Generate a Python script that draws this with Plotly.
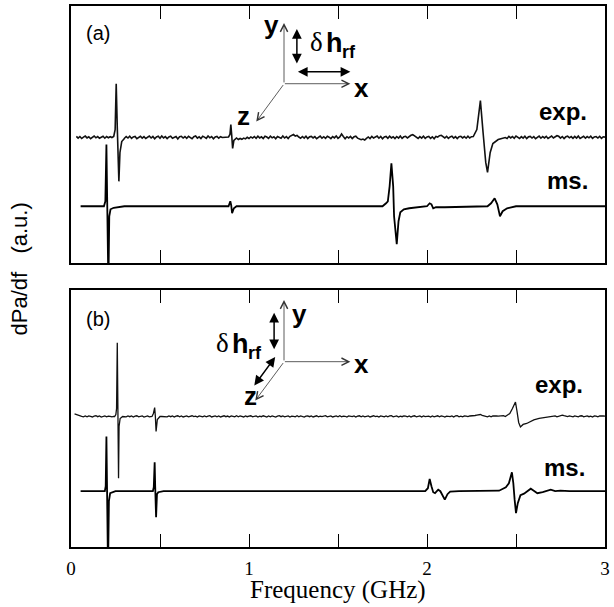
import numpy as np
import plotly.graph_objects as go

# ---------------- data (frequency in GHz, signal in a.u.) ----------------
# panel (a): exp. resonance features
exp_a_f = [0.24, 0.248, 0.254, 0.260, 0.264, 0.269, 0.275, 0.285, 0.30,
           0.885, 0.893, 0.898, 0.903, 0.908, 0.915, 0.925,
           2.26, 2.28, 2.30, 2.315, 2.33, 2.34, 2.355, 2.37, 2.40, 2.44]
exp_a_v = [0.1, 0.8, 5.4, 1.0, -1.5, -4.4, -1.5, -0.4, -0.1,
           0.05, 0.3, 1.3, 0.2, -1.1, -0.3, -0.1,
           0.1, 0.8, 3.7, 0.5, -2.5, -3.5, -1.5, -0.6, -0.2, 0.0]
# panel (a): exp. baseline noise, read every 0.01 GHz from 0.03 GHz
exp_a_noise = [
    0.12, -0.06, 0.10, -0.10, 0.04, 0.14, -0.04, 0.08, -0.12, 0.06, 0.15, -0.03, 0.09, -0.08, 0.05, 0.12, -0.07, 0.10, -0.02, 0.08,
    0.00, 0.00, 0.00, 0.00, 0.00, 0.00, 0.00, -0.08, 0.10, -0.05, 0.14, -0.09, 0.06, 0.11, -0.12, 0.04, 0.13, -0.06, 0.09, -0.10,
    0.07, 0.15, -0.05, 0.10, -0.13, 0.05, 0.12, -0.08, 0.16, -0.04, 0.09, -0.11, 0.06, 0.14, -0.07, 0.03, 0.11, -0.14, 0.08, 0.12,
    -0.05, 0.10, -0.09, 0.13, 0.02, -0.12, 0.09, 0.15, -0.06, 0.07, -0.10, 0.12, 0.04, -0.08, 0.16, -0.03, 0.09, -0.13, 0.06, 0.11,
    -0.07, 0.08, 0.00, 0.00, 0.00, 0.00, 0.00, 0.00, 0.00, -0.15, -0.05, -0.20, -0.10, -0.18, -0.06, -0.14, 0.02, -0.10, 0.06, -0.05,
    0.10, -0.08, 0.13, -0.04, 0.07, -0.11, 0.12, 0.05, -0.09, 0.14, -0.03, 0.08, -0.12, 0.10, 0.03, -0.07, 0.15, -0.05, 0.09, -0.10,
    0.12, 0.20, 0.30, 0.15, 0.22, 0.05, -0.08, 0.10, -0.06, 0.13, -0.10, 0.07, 0.11, -0.04, 0.09, -0.12, 0.06, 0.14, -0.07, 0.08,
    -0.09, 0.12, 0.03, -0.11, 0.10, -0.04, 0.15, -0.08, 0.06, 0.35, 0.10, -0.12, 0.08, -0.05, 0.11, -0.10, 0.07, 0.13, -0.06, -0.12,
    -0.22, -0.15, -0.25, -0.08, 0.06, -0.10, 0.12, -0.05, 0.09, 0.14, -0.07, 0.10, -0.12, 0.05, 0.11, -0.08, 0.13, -0.04, 0.08, -0.11,
    0.10, -0.06, 0.14, -0.09, 0.07, 0.12, -0.05, 0.10, 0.22, 0.28, 0.15, 0.05, -0.10, 0.09, -0.06, 0.13, -0.08, 0.06, 0.11, -0.09,
    0.07, -0.12, 0.10, 0.04, 0.18, 0.22, 0.10, -0.05, 0.12, -0.08, 0.06, 0.14, -0.06, 0.09, -0.11, 0.08, 0.12, -0.04, 0.10, -0.07,
    0.13, -0.05, 0.08, 0.00, 0.00, 0.00, 0.00, 0.00, 0.00, 0.00, 0.00, 0.00, 0.00, 0.00, 0.00, 0.00, 0.00, 0.00, 0.00, 0.00,
    0.00, 0.06, -0.09, 0.12, -0.04, 0.10, -0.08, 0.14, 0.03, -0.10, 0.09, -0.06, 0.13, -0.11, 0.07, 0.11, -0.05, 0.09, -0.12, 0.06,
    0.14, -0.07, 0.10, -0.04, 0.12, -0.09, 0.06, 0.15, -0.05, 0.08, 0.18, 0.12, -0.06, 0.10, -0.11, 0.07, 0.13, -0.03, 0.09, -0.08,
    0.11, -0.06, 0.14, -0.10, 0.05, 0.12, -0.07, 0.09, -0.03, 0.13, -0.09, 0.06, 0.10, -0.05, 0.12, -0.08, 0.07, 0.04]

# panel (a): ms. (micromagnetic simulation)
ms_a_f = [0.054, 0.15, 0.185, 0.193, 0.199, 0.203, 0.206, 0.210, 0.215, 0.222, 0.24, 0.30,
          0.87, 0.885, 0.895, 0.90, 0.905, 0.915, 0.93,
          1.70, 1.75, 1.77, 1.78, 1.79, 1.80, 1.81, 1.815, 1.83, 1.84, 1.85, 1.87, 1.90, 1.95,
          2.00, 2.015, 2.025, 2.035, 2.05, 2.10,
          2.30, 2.34, 2.36, 2.38, 2.395, 2.41, 2.425, 2.45, 2.50, 3.0]
ms_a_v = [0, 0, 0, 0.5, 6.2, 1.0, -3.0, -8.0, -1.0, -0.3, -0.15, 0,
          0, 0, 0.5, 0.1, -0.7, -0.2, 0,
          0, 0, 0.3, 0.5, 2.0, 4.3, 2.0, -1.0, -3.8, -1.5, -0.6, -0.3, -0.2, -0.1,
          0, 0.3, 0.2, -0.2, -0.1, -0.1,
          0, 0, 0.3, 0.8, 0.2, -1.0, -0.5, -0.2, 0, 0]

# panel (b): exp. resonance features
exp_b_f = [0.245, 0.252, 0.256, 0.260, 0.263, 0.265, 0.267, 0.270, 0.276, 0.29,
           0.455, 0.463, 0.470, 0.474, 0.478, 0.485, 0.50,
           2.44, 2.465, 2.48, 2.497, 2.505, 2.515, 2.525, 2.54, 2.56, 2.58, 2.60, 2.63, 2.66, 2.70]
exp_b_v = [0.0, 0.2, 0.8, 7.4, 1.0, -3.0, -6.2, -1.0, -0.2, 0.0,
           0.0, 0.3, 0.9, 0.0, -1.5, -0.3, 0.0,
           0.0, 0.3, 0.8, 1.45, 0.6, -0.6, -1.05, -0.8, -0.7, -0.5, -0.35, -0.2, -0.1, 0.0]
# panel (b): exp. baseline noise, read every 0.01 GHz from 0.02 GHz
exp_b_noise = [
    0.25, 0.18, 0.10, 0.05, 0.02, -0.03, 0.05, -0.04, 0.06, 0.01, -0.05, 0.04, 0.07, -0.02, 0.05, -0.06, 0.03, 0.06, -0.03, 0.04,
    0.02, -0.04, 0.00, 0.00, 0.00, 0.00, 0.00, 0.00, 0.00, -0.03, 0.05, -0.02, 0.06, -0.05, 0.03, 0.07, -0.04, 0.02, 0.05, -0.06,
    0.04, 0.06, -0.03, 0.00, 0.00, 0.00, 0.00, 0.00, 0.00, 0.00, 0.00, 0.00, -0.04, 0.06, -0.02, 0.05, -0.06, 0.03, 0.07, -0.03,
    0.05, -0.05, 0.02, 0.06, -0.04, 0.04, 0.07, -0.02, 0.03, -0.06, 0.05, 0.02, -0.04, 0.06, -0.03, 0.04, 0.08, -0.05, 0.02, 0.05,
    -0.03, 0.06, -0.05, 0.03, 0.07, -0.02, 0.04, -0.06, 0.05, 0.02, -0.04, 0.07, -0.03, 0.05, 0.01, -0.05, 0.06, -0.02, 0.04, 0.07,
    -0.04, 0.03, 0.06, -0.05, 0.04, -0.02, 0.07, 0.02, -0.05, 0.05, -0.03, 0.06, 0.03, -0.06, 0.04, 0.08, -0.02, 0.05, -0.04, 0.03,
    0.06, -0.05, 0.04, 0.02, -0.03, 0.07, -0.04, 0.05, 0.03, -0.06, 0.04, 0.06, -0.02, 0.05, -0.05, 0.03, 0.07, -0.03, 0.04, -0.02,
    0.05, 0.08, -0.04, 0.03, 0.06, -0.05, 0.02, 0.05, -0.03, 0.07, -0.04, 0.04, 0.02, -0.06, 0.05, 0.03, -0.02, 0.06, -0.05, 0.04,
    0.07, -0.03, 0.05, -0.04, 0.02, 0.06, -0.05, 0.04, 0.07, -0.02, 0.03, -0.06, 0.05, 0.02, -0.04, 0.06, -0.03, 0.05, 0.08, -0.04,
    0.03, 0.05, -0.05, 0.04, -0.02, 0.06, 0.03, -0.04, 0.05, -0.06, 0.04, 0.07, -0.03, 0.02, 0.05, -0.05, 0.06, -0.02, 0.04, 0.03,
    -0.05, 0.06, -0.03, 0.04, 0.07, -0.04, 0.05, 0.02, -0.06, 0.04, 0.03, -0.02, 0.06, -0.05, 0.05, 0.08, -0.03, 0.04, -0.04, 0.06,
    0.03, -0.02, 0.05, 0.07, 0.02, 0.10, 0.14, 0.18, 0.20, 0.12, 0.08, 0.04, -0.03, 0.05, -0.04, 0.06, 0.02, 0.05, 0.03, 0.06,
    0.04, 0.08, 0.00, 0.00, 0.00, 0.00, 0.00, 0.00, 0.00, 0.00, 0.00, 0.00, 0.00, 0.00, 0.00, 0.00, 0.00, 0.00, 0.00, 0.00,
    0.00, 0.00, 0.00, 0.00, 0.00, 0.00, 0.00, 0.00, 0.00, 0.03, 0.06, -0.03, 0.05, 0.10, 0.14, 0.08, 0.04, -0.02, 0.05, 0.03,
    -0.04, 0.06, 0.02, -0.03, 0.05, 0.07, -0.04, 0.03, 0.06, -0.02, 0.04, -0.05, 0.06, 0.03, -0.03, 0.05, 0.02, 0.06, 0.04]

# panel (b): ms.
ms_b_f = [0.054, 0.15, 0.19, 0.195, 0.199, 0.202, 0.205, 0.208, 0.213, 0.22, 0.25,
          0.44, 0.46, 0.465, 0.470, 0.473, 0.476, 0.478, 0.483, 0.49, 0.52,
          1.95, 1.99, 2.005, 2.015, 2.025, 2.035, 2.045, 2.063, 2.075, 2.09, 2.10, 2.115, 2.13, 2.18,
          2.38, 2.405, 2.443, 2.46, 2.477, 2.485, 2.492, 2.50, 2.51, 2.525, 2.545, 2.565, 2.583,
          2.60, 2.62, 2.65, 2.695, 2.72, 2.75, 2.80, 3.0]
ms_b_v = [0, 0, 0, 0.5, 5.5, 1.0, -3.0, -8.0, -1.0, -0.2, 0,
          0, 0, 0.4, 2.9, 0.5, -1.0, -2.6, -0.3, -0.1, 0,
          0, 0, 0.3, 1.24, 0.5, -0.1, -0.2, 0.15, 0.0, -0.5, -0.85, -0.3, -0.05, 0,
          0, 0.05, 0.4, 0.8, 1.9, 0.8, -0.8, -2.2, -1.2, -0.4, -0.25, 0.0, 0.25,
          0.05, -0.2, -0.1, 0.15, 0.0, 0.05, 0, 0]

x_tickvals = [0, 0.5, 1, 1.5, 2, 2.5, 3]
x_ticktext = ["0", "", "1", "", "2", "", "3"]

# vertical offsets of the stacked traces (a.u.)
EXP_A_OFF, MS_A_OFF = 6.9, 0.0
EXP_B_OFF, MS_B_OFF = 7.5, 0.0
RANGE_A = [-5.7, 20.1]
RANGE_B = [-5.6, 20.2]


def merge(feat_f, feat_v, start, step, noise):
    feat_f = np.asarray(feat_f, float)
    feat_v = np.asarray(feat_v, float)
    grid = start + step * np.arange(len(noise))
    noise = np.asarray(noise, float)
    clusters = []
    s = p = feat_f[0]
    for f in feat_f[1:]:
        if f - p > 0.05:
            clusters.append((s, p))
            s = f
        p = f
    clusters.append((s, p))
    keep = np.array([not any(a <= g <= b for a, b in clusters) for g in grid])
    f = np.concatenate([grid[keep], feat_f])
    v = np.concatenate([noise[keep], feat_v])
    o = np.argsort(f)
    return f[o], v[o]


ea_f, ea_v = merge(exp_a_f, exp_a_v, 0.03, 0.01, exp_a_noise)
eb_f, eb_v = merge(exp_b_f, exp_b_v, 0.02, 0.01, exp_b_noise)

fig = go.Figure()
line_exp = dict(color="#111111", width=1.6)
line_ms = dict(color="#000000", width=1.8)

fig.add_trace(go.Scatter(x=ea_f, y=ea_v + EXP_A_OFF, mode="lines", line=line_exp,
                         xaxis="x2", yaxis="y2", showlegend=False))
fig.add_trace(go.Scatter(x=ms_a_f, y=np.array(ms_a_v) + MS_A_OFF, mode="lines", line=line_ms,
                         xaxis="x2", yaxis="y2", showlegend=False))
fig.add_trace(go.Scatter(x=eb_f, y=eb_v + EXP_B_OFF, mode="lines", line=dict(color="#111111", width=1.3),
                         xaxis="x", yaxis="y", showlegend=False))
fig.add_trace(go.Scatter(x=ms_b_f, y=np.array(ms_b_v) + MS_B_OFF, mode="lines", line=line_ms,
                         xaxis="x", yaxis="y", showlegend=False))

SERIF = "Liberation Serif"
SANS = "Liberation Sans"

xcommon = dict(range=[0, 3], tickvals=x_tickvals, ticktext=x_ticktext, ticks="inside",
               ticklen=13, tickwidth=1, tickcolor="black", showline=True, linewidth=1.5,
               linecolor="black", mirror="ticks", showgrid=False, zeroline=False,
               tickfont=dict(family=SERIF, size=19, color="black"))
ycommon = dict(showline=True, linewidth=1.5, linecolor="black", mirror=True, ticks="",
               showticklabels=False, showgrid=False, zeroline=False)

fig.update_layout(
    width=614, height=607,
    margin=dict(l=71, r=4, t=4, b=60),
    paper_bgcolor="white", plot_bgcolor="white",
    font=dict(family=SANS, color="black"),
    xaxis=dict(**xcommon, anchor="y", domain=[0, 1], ticklabelstandoff=3),
    xaxis2=dict(**xcommon, anchor="y2", domain=[0, 1], matches="x", showticklabels=False),
    yaxis=dict(**ycommon, domain=[0, 258 / 543], range=RANGE_B),
    yaxis2=dict(**ycommon, domain=[285 / 543, 1], range=RANGE_A),
)

# ---- helpers to place decorations in figure-pixel positions ----
def PX(x):
    return (x - 71) / 539


def PY(y):
    return (547 - y) / 543


ann = []


def text(x, y, s, size, family=SANS, xanchor="center", yanchor="middle", angle=0):
    ann.append(dict(x=PX(x), y=PY(y), xref="paper", yref="paper", text=s, showarrow=False,
                    xanchor=xanchor, yanchor=yanchor, textangle=angle,
                    font=dict(family=family, size=size, color="black")))


def arrow(hx, hy, tx, ty, double=False, filled=False):
    d = dict(x=PX(hx), y=PY(hy), xref="paper", yref="paper", text="", showarrow=True,
             ax=tx - hx, ay=ty - hy, axref="pixel", ayref="pixel", standoff=0, startstandoff=0)
    if filled:
        d.update(arrowhead=2, arrowsize=1.3, arrowwidth=1.5, arrowcolor="black")
    else:
        d.update(arrowhead=5, arrowsize=1.8, arrowwidth=0.8, arrowcolor="#333333")
    if double:
        d.update(arrowside="end+start", startarrowhead=d["arrowhead"], startarrowsize=d["arrowsize"])
    ann.append(d)


# axis titles
text(19, 268, "dPa/df\u00a0\u00a0\u00a0(a.u.)", 22, angle=-90)
text(341, 590, "Frequency (GHz)", 25, family=SERIF)

# panel labels
text(98, 31, "(a)", 20)
text(98, 318, "(b)", 20)

# trace labels
text(594, 110, "<b>exp.</b>", 24, xanchor="right")
text(595, 179, "<b>ms.</b>", 24, xanchor="right")
text(590, 384, "<b>exp.</b>", 24, xanchor="right")
text(592, 467, "<b>ms.</b>", 24, xanchor="right")

# inset (a): coordinate axes
arrow(286, 21, 286, 82)
arrow(353, 82, 286, 82)
arrow(258, 120, 286, 82)
text(273, 23, "<b>y</b>", 26)
text(364, 86, "<b>x</b>", 26)
text(245, 114, "<b>z</b>", 26)
arrow(299, 27, 299, 63, double=True, filled=True)
arrow(353, 70, 299, 70, double=True, filled=True)
text(319, 40, "δ", 27, family=SERIF)
text(326, 41, "<b>h</b>", 27, xanchor="left")
text(343, 50, "<b>rf</b>", 18, xanchor="left")

# inset (b): coordinate axes
arrow(286, 299, 286, 361)
arrow(353, 361, 286, 361)
arrow(257, 400, 286, 361)
text(302, 313, "<b>y</b>", 26)
text(364, 363, "<b>x</b>", 26)
text(252, 395, "<b>z</b>", 26)
arrow(276, 312, 276, 350, double=True, filled=True)
arrow(256, 385, 278, 355, double=True, filled=True)
text(224, 342, "δ", 27, family=SERIF)
text(231, 343, "<b>h</b>", 27, xanchor="left")
text(248, 352, "<b>rf</b>", 18, xanchor="left")

fig.update_layout(annotations=ann)
fig.write_html("out.html")
